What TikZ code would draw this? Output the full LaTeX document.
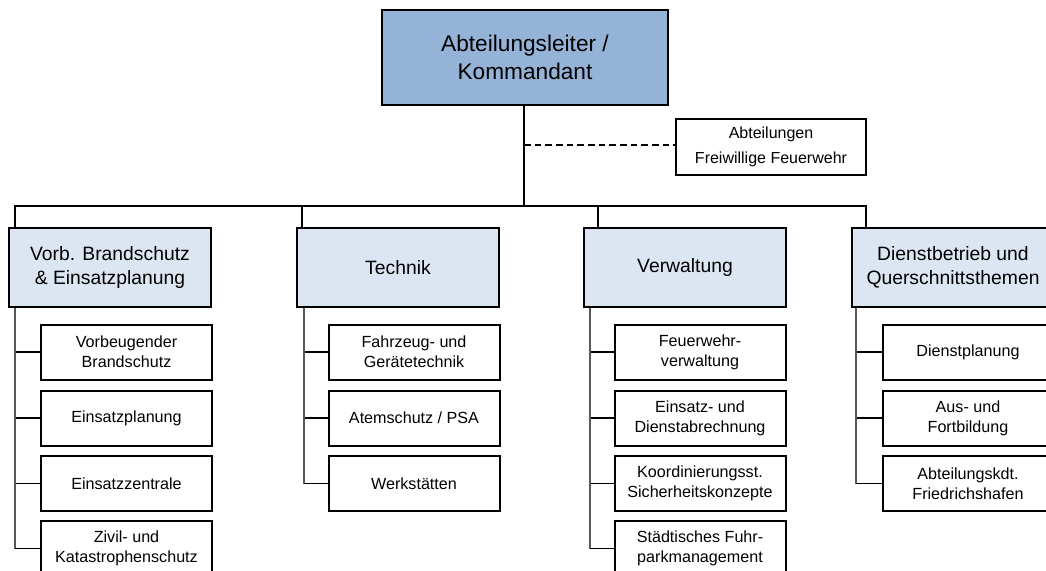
\documentclass[tikz,border=0pt]{standalone}
\usepackage{fontspec}
\setmainfont{Liberation Sans}
\definecolor{topblue}{HTML}{95B3D7}
\definecolor{lightblue}{HTML}{DCE6F2}
\tikzset{
  topbox/.style={draw=black, line width=1.5pt, fill=topblue, minimum width=214.5pt, minimum height=71.25pt, align=center, inner sep=0pt, font=\fontsize{17}{20.5}\selectfont},
  ffbox/.style={draw=black, line width=1.3pt, fill=white, minimum width=142.5pt, minimum height=42pt, align=center, inner sep=0pt, font=\fontsize{12}{18.5}\selectfont},
  deptbox/.style={draw=black, line width=1.5pt, fill=lightblue, minimum width=151.5pt, minimum height=59.25pt, align=center, inner sep=0pt, font=\fontsize{14.5}{18}\selectfont},
  subbox/.style={draw=black, line width=1.5pt, fill=white, minimum width=128.25pt, minimum height=41.25pt, align=center, inner sep=0pt, font=\fontsize{12.1}{15}\selectfont},
  conn/.style={draw=black, line width=1.2pt},
  subconn/.style={draw=black!65, line width=1.2pt},
  dashconn/.style={draw=black, line width=1pt, dash pattern=on 5pt off 3pt},
}
\begin{document}
\begin{tikzpicture}[x=0.75pt, y=-0.75pt]
\useasboundingbox (0,0) rectangle (1046,571);
\clip (0,0) rectangle (1046,571);
\fill[white] (0,0) rectangle (1046,571);

% top
\node[topbox] (top) at (525,57.5) {Abteilungsleiter /\\Kommandant};
\node[ffbox] (ff) at (771,147) {Abteilungen\\Freiwillige Feuerwehr};

% departments
\node[deptbox] (d1) at (110,267.5) {Vorb. Brandschutz\\\& Einsatzplanung};
\node[deptbox] (d2) at (398,267.5) {Technik};
\node[deptbox] (d3) at (685,267.5) {Verwaltung};
\node[deptbox] (d4) at (953,267.5) {Dienstbetrieb und\\Querschnittsthemen};

% sub boxes column 1
\node[subbox] (s11) at (126.5,352) {Vorbeugender\\Brandschutz};
\node[subbox] (s12) at (126.5,418) {Einsatzplanung};
\node[subbox] (s13) at (126.5,483.5) {Einsatzzentrale};
\node[subbox] (s14) at (126.5,548.5) {Zivil- und\\Katastrophenschutz};
% column 2
\node[subbox] (s21) at (414,352) {Fahrzeug- und\\Gerätetechnik};
\node[subbox] (s22) at (414,418) {Atemschutz / PSA};
\node[subbox] (s23) at (414,483.5) {Werkstätten};
% column 3
\node[subbox] (s31) at (700,352) {Feuerwehr-\\verwaltung};
\node[subbox] (s32) at (700,418) {Einsatz- und\\Dienstabrechnung};
\node[subbox] (s33) at (700,483.5) {Koordinierungsst.\\Sicherheitskonzepte};
\node[subbox] (s34) at (700,548.5) {Städtisches Fuhr-\\parkmanagement};
% column 4
\node[subbox] (s41) at (968,352) {Dienstplanung};
\node[subbox] (s42) at (968,418) {Aus- und\\Fortbildung};
\node[subbox] (s43) at (968,483.5) {Abteilungskdt.\\Friedrichshafen};

% main trunk and bus
\coordinate (bus) at (524,206);
\coordinate (dj) at (524,145);
\draw[conn] (top.south -| bus) -- (bus);
\draw[dashconn] (dj) -- (dj -| ff.west);
\draw[conn] ([xshift=5.25pt]d1.north west) |- (bus);
\draw[conn] ([xshift=11.25pt]d4.north west) |- (bus);
\draw[conn] ([xshift=4.5pt]d2.north west) -- ([xshift=4.5pt]d2.north west |- bus);
\draw[conn] ([xshift=11.25pt]d3.north west) -- ([xshift=11.25pt]d3.north west |- bus);

% sub trunks
\foreach \d/\s/\n/\off in {d1/s1/4/5.25pt, d2/s2/3/6pt, d3/s3/4/5.25pt, d4/s4/3/3.75pt}{
  \foreach \k in {1,...,\n}{
    \draw[subconn] ([xshift=\off]\d.south west) -- ([xshift=\off]\d.south west |- \s\k.west);
    \draw[conn] ([xshift=\off]\d.south west |- \s\k.west) -- (\s\k.west);
  }
}
\end{tikzpicture}
\end{document}
